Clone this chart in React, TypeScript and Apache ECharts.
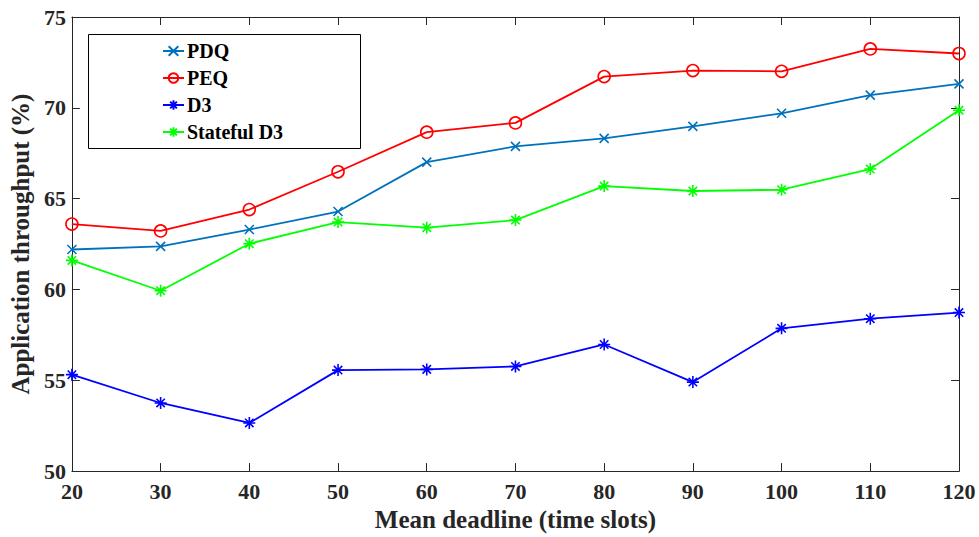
import React, { useEffect, useRef } from "react";
import * as echarts from "echarts";

const deadlines = [20, 30, 40, 50, 60, 70, 80, 90, 100, 110, 120];
const pdq = [62.2, 62.37, 63.3, 64.29, 67.01, 67.88, 68.32, 68.98, 69.7, 70.7, 71.32];
const peq = [63.6, 63.22, 64.4, 66.48, 68.66, 69.17, 71.72, 72.05, 72.01, 73.24, 72.99];
const d3 = [55.31, 53.75, 52.65, 55.56, 55.6, 55.76, 56.97, 54.9, 57.86, 58.39, 58.73];
const statefulD3 = [61.6, 59.93, 62.52, 63.71, 63.4, 63.82, 65.69, 65.42, 65.49, 66.63, 69.87];

const seriesNames = ["PDQ", "PEQ", "D3", "Stateful D3"];
const yTicks = { min: 50, max: 75, interval: 5 };
const xTicks = { min: 20, max: 120, interval: 10 };

const FONT = "'Liberation Serif', 'Times New Roman', serif";
const AXIS = "#262626";

const CROSS = "path://M0,0L10,10M10,0L0,10";
const STAR = "path://M5,0L5,10M0,5L10,5M1.5,1.5L8.5,8.5M8.5,1.5L1.5,8.5";

function mk(name: string, data: number[], color: string, symbol: string, size: number) {
  return {
    name,
    type: "line",
    data: deadlines.map((x, i) => [x, data[i]]),
    symbol,
    symbolSize: size,
    showSymbol: true,
    lineStyle: { color, width: 1.8 },
    itemStyle: { color: "rgba(0,0,0,0)", borderColor: color, borderWidth: 1.6 },
    emphasis: { disabled: true },
    z: 2,
  };
}

export default function App() {
  const ref = useRef<HTMLDivElement>(null);
  useEffect(() => {
    if (!ref.current) return;
    const chart = echarts.init(ref.current, null, { renderer: "svg" });
    const axisCommon = {
      type: "value",
      axisLine: { show: true, lineStyle: { color: AXIS, width: 1 } },
      axisTick: { show: true, inside: true, length: 8, lineStyle: { color: AXIS } },
      splitLine: { show: false },
    };
    chart.setOption({
      animation: false,
      backgroundColor: "#ffffff",
      grid: { left: 67, right: 20, top: 17, bottom: 60, containLabel: false },
      xAxis: [
        {
          ...axisCommon,
          position: "bottom",
          min: xTicks.min,
          max: xTicks.max,
          interval: xTicks.interval,
          name: "Mean deadline (time slots)",
          nameLocation: "middle",
          nameGap: 33,
          nameTextStyle: { fontFamily: FONT, fontWeight: "bold", fontSize: 25, color: AXIS },
          axisLabel: { margin: 9, fontFamily: FONT, fontWeight: "bold", fontSize: 22, color: AXIS },
        },
        {
          ...axisCommon,
          position: "top",
          min: xTicks.min,
          max: xTicks.max,
          interval: xTicks.interval,
          axisLabel: { show: false },
        },
      ],
      yAxis: [
        {
          ...axisCommon,
          position: "left",
          min: yTicks.min,
          max: yTicks.max,
          interval: yTicks.interval,
          name: "Application throughput (%)",
          nameLocation: "middle",
          nameGap: 32,
          nameTextStyle: { fontFamily: FONT, fontWeight: "bold", fontSize: 25, color: AXIS },
          axisLabel: { margin: 6, fontFamily: FONT, fontWeight: "bold", fontSize: 22, color: AXIS },
        },
        {
          ...axisCommon,
          position: "right",
          min: yTicks.min,
          max: yTicks.max,
          interval: yTicks.interval,
          axisLabel: { show: false },
        },
      ],
      graphic: [
        {
          type: "rect",
          left: 88,
          top: 34,
          shape: { width: 272, height: 114 },
          style: { fill: "#ffffff", stroke: "#000000", lineWidth: 1 },
          z: 3,
        },
      ],
      legend: {
        show: true,
        orient: "vertical",
        left: 162,
        top: 41,
        itemWidth: 21,
        itemHeight: 12,
        itemGap: 7,
        padding: 0,
        z: 5,
        data: seriesNames,
        textStyle: { fontFamily: FONT, fontWeight: "bold", fontSize: 20, color: "#000", lineHeight: 20, padding: [0, 0, 0, -2] },
      },
      series: [
        mk(seriesNames[0], pdq, "#0072BD", CROSS, 9),
        mk(seriesNames[1], peq, "#FF0000", "circle", 12),
        mk(seriesNames[2], d3, "#0000FF", STAR, 12),
        mk(seriesNames[3], statefulD3, "#00FF00", STAR, 12),
      ],
    });
    return () => chart.dispose();
  }, []);
  return (
    <div
      ref={ref}
      style={{ position: "fixed", left: 0, top: 0, width: 979, height: 537 }}
    />
  );
}
